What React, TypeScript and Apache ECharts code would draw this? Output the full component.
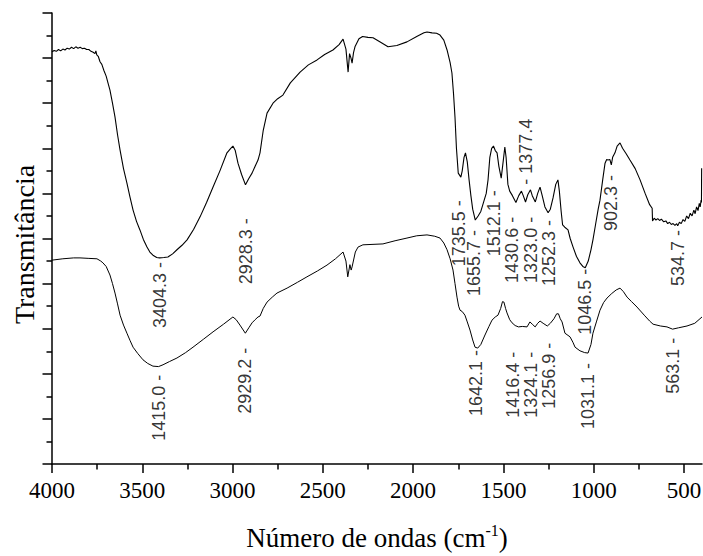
import { useEffect, useRef } from "react";
import * as echarts from "echarts";

// Wavenumber range (cm-1), drawn high to low
const xMin = 400;
const xMax = 4000;
const majorTicks = [4000, 3500, 3000, 2500, 2000, 1500, 1000, 500];
const minorTicks = [3750, 3250, 2750, 2250, 1750, 1250, 750];

// Upper spectrum: [wavenumber, transmittance]
const upperSpectrum: [number, number][] = [
  [4000, 9.14], [3988, 9.17], [3976, 9.15], [3964, 9.19], [3952, 9.16], [3940, 9.2], [3928, 9.18],
  [3916, 9.22], [3904, 9.2], [3892, 9.24], [3880, 9.21], [3868, 9.25], [3856, 9.22], [3844, 9.24],
  [3832, 9.21], [3820, 9.22], [3808, 9.19], [3796, 9.19], [3784, 9.15], [3772, 9.13], [3762, 9.1],
  [3757, 9.16], [3752, 9.07], [3744, 9.04], [3734, 8.92], [3724, 8.86], [3712, 8.72], [3700, 8.6],
  [3690, 8.45], [3679, 8.29], [3665, 8.0], [3651, 7.69], [3637, 7.3], [3623, 6.96], [3604, 6.55],
  [3585, 6.23], [3568, 5.92], [3551, 5.63], [3532, 5.38], [3513, 5.19], [3494, 4.98], [3474, 4.81],
  [3458, 4.7], [3441, 4.63], [3420, 4.58], [3404.3, 4.57], [3380, 4.58], [3358, 4.59], [3332, 4.66],
  [3308, 4.75], [3280, 4.85], [3252, 4.97], [3216, 5.2], [3180, 5.48], [3144, 5.8], [3108, 6.14],
  [3070, 6.5], [3031, 6.9], [3010, 7.0], [2998, 7.05], [2985, 6.95], [2970, 6.67], [2950, 6.42],
  [2928.3, 6.19], [2910, 6.33], [2892, 6.45], [2875, 6.6], [2859, 6.74], [2848, 6.9], [2830, 7.4],
  [2809, 7.78], [2776, 8.0], [2750, 8.1], [2721, 8.18], [2680, 8.45], [2626, 8.69], [2580, 8.85],
  [2532, 8.96], [2490, 9.08], [2444, 9.18], [2410, 9.3], [2388, 9.42], [2372, 9.2], [2360, 8.69],
  [2352, 9.1], [2344, 9.0], [2338, 8.89], [2330, 9.12], [2322, 9.25], [2300, 9.43], [2280, 9.48],
  [2250, 9.46], [2222, 9.45], [2180, 9.35], [2139, 9.25], [2090, 9.28], [2034, 9.36], [1980, 9.48],
  [1940, 9.56], [1923, 9.58], [1895, 9.56], [1870, 9.55], [1851, 9.51], [1830, 9.4], [1812, 9.18],
  [1795, 8.9], [1785, 8.67], [1776, 8.2], [1768, 7.69], [1760, 7.0], [1750, 6.45], [1735.5, 6.36],
  [1728, 6.5], [1718, 6.8], [1710, 6.9], [1700, 6.7], [1690, 6.3], [1680, 5.95], [1670, 5.65],
  [1655.7, 5.41], [1640, 5.5], [1625, 5.6], [1610, 5.8], [1595, 6.0], [1585, 6.3], [1575, 6.8],
  [1565, 7.0], [1555, 7.05], [1545, 6.95], [1535, 6.9], [1525, 6.6], [1512.1, 6.34], [1500, 6.75],
  [1492, 7.03], [1485, 6.8], [1475, 6.2], [1465, 6.05], [1450, 5.95], [1430.6, 5.8], [1415, 5.95],
  [1400, 6.05], [1390, 5.95], [1377.4, 5.81], [1365, 5.97], [1350, 6.08], [1340, 5.95], [1323.0, 5.81],
  [1310, 6.0], [1297, 6.14], [1285, 5.95], [1270, 5.7], [1252.3, 5.57], [1240, 5.65], [1225, 5.9],
  [1210, 6.2], [1198, 6.3], [1190, 6.05], [1180, 5.6], [1172, 5.3], [1160, 5.25], [1142, 5.19],
  [1130, 5.0], [1114, 4.81], [1095, 4.6], [1076, 4.46], [1060, 4.38], [1046.5, 4.35], [1030, 4.5],
  [1015, 4.75], [1004, 4.97], [990, 5.3], [975, 5.65], [965, 5.85], [950, 6.3], [937, 6.67],
  [928, 6.75], [921, 6.74], [910, 6.75], [902.3, 6.63], [895, 6.8], [882, 6.9], [870, 7.05],
  [854, 7.12], [840, 7.0], [820, 6.88], [799, 6.74], [770, 6.55], [743, 6.3], [715, 6.0],
  [690, 5.75], [676, 5.67], [674, 5.39], [665, 5.45], [655, 5.41], [645, 5.44], [635, 5.4],
  [625, 5.43], [612, 5.37], [600, 5.39], [590, 5.33], [580, 5.36], [570, 5.31], [560, 5.33],
  [550, 5.29], [540, 5.33], [534.7, 5.28], [525, 5.36], [515, 5.33], [505, 5.42], [495, 5.38],
  [485, 5.5], [475, 5.44], [465, 5.56], [455, 5.5], [445, 5.63], [438, 5.55], [430, 5.7],
  [422, 5.62], [415, 5.78], [410, 5.7], [405, 5.85], [403, 5.8], [402, 6.56],
];

// Lower spectrum: [wavenumber, transmittance]
const lowerSpectrum: [number, number][] = [
  [4000, 4.52], [3940, 4.55], [3880, 4.57], [3845, 4.57], [3800, 4.56], [3751, 4.55], [3730, 4.5],
  [3718, 4.46], [3700, 4.38], [3679, 4.19], [3665, 4.0], [3651, 3.79], [3637, 3.55], [3623, 3.3],
  [3604, 3.08], [3585, 2.9], [3568, 2.74], [3551, 2.59], [3525, 2.45], [3496, 2.31], [3470, 2.23],
  [3441, 2.17], [3410, 2.16], [3385, 2.2], [3350, 2.27], [3308, 2.35], [3260, 2.47], [3219, 2.59],
  [3160, 2.77], [3108, 2.93], [3050, 3.1], [2998, 3.26], [2980, 3.2], [2959, 3.08], [2929.2, 2.9],
  [2910, 3.02], [2892, 3.13], [2875, 3.2], [2859, 3.26], [2848, 3.28], [2830, 3.45], [2809, 3.59],
  [2780, 3.7], [2754, 3.79], [2698, 3.9], [2640, 4.03], [2588, 4.15], [2530, 4.28], [2477, 4.41],
  [2430, 4.55], [2388, 4.7], [2372, 4.5], [2362, 4.15], [2350, 4.42], [2343, 4.3], [2338, 4.37],
  [2320, 4.7], [2305, 4.81], [2278, 4.86], [2167, 4.88], [2100, 4.95], [2034, 5.01], [1980, 5.06],
  [1923, 5.08], [1880, 5.05], [1851, 5.01], [1830, 4.9], [1812, 4.75], [1795, 4.55], [1779, 4.3],
  [1768, 4.0], [1757, 3.7], [1748, 3.5], [1740, 3.41], [1728, 3.38], [1713, 3.3], [1700, 3.15],
  [1685, 2.97], [1670, 2.75], [1657, 2.59], [1642.1, 2.57], [1625, 2.65], [1602, 2.86], [1580, 3.05],
  [1563, 3.19], [1545, 3.26], [1530, 3.3], [1515, 3.45], [1505, 3.6], [1497, 3.59], [1488, 3.45],
  [1480, 3.35], [1465, 3.2], [1452, 3.13], [1435, 3.07], [1416.4, 3.04], [1395, 3.05], [1369, 3.04],
  [1353, 3.15], [1340, 3.1], [1324.1, 3.04], [1310, 3.12], [1297, 3.17], [1280, 3.12], [1256.9, 3.06],
  [1240, 3.12], [1220, 3.22], [1205, 3.33], [1195, 3.33], [1185, 3.22], [1175, 3.15], [1159, 2.9],
  [1131, 2.82], [1115, 2.7], [1103, 2.59], [1076, 2.51], [1050, 2.47], [1031.1, 2.46], [1015, 2.65],
  [1004, 2.9], [985, 3.15], [965, 3.41], [945, 3.58], [926, 3.68], [900, 3.78], [875, 3.86],
  [854, 3.9], [835, 3.82], [815, 3.7], [790, 3.6], [760, 3.48], [720, 3.3], [690, 3.17], [671, 3.1],
  [630, 3.06], [594, 3.04], [563.1, 2.99], [530, 3.02], [483, 3.06], [440, 3.12], [400, 3.26],
];

// Band labels: text, wavenumber where the label stands (spread apart where bands crowd),
// transmittance at the dash end
const upperBandText = ["3404.3 -", "2928.3 -", "1735.5 -", "1655.7 -", "1512.1 -", "1430.6 -", "- 1377.4", "1323.0 -", "1252.3 -", "1046.5 -", "902.3 -", "534.7 -"];
const upperBandAt = [3404.3, 2928.3, 1746, 1663, 1550, 1450, 1377.4, 1347, 1247, 1046.5, 902.3, 534.7];
const upperBandEnd = [4.48, 5.45, 5.85, 5.19, 6.07, 5.48, 6.19, 5.48, 5.41, 4.33, 6.41, 5.19];

const lowerBandText = ["1415.0 -", "2929.2 -", "1642.1 -", "1416.4 -", "1324.1 -", "1256.9 -", "1031.1 -", "563.1 -"];
const lowerBandAt = [3410, 2929.2, 1654, 1447, 1347, 1247, 1031.1, 563.1];
const lowerBandEnd = [1.98, 2.58, 2.53, 2.49, 2.49, 2.69, 2.24, 2.8];

const serif = "Liberation Serif";
const sans = "Liberation Sans";

function bandItems(texts: string[], at: number[], end: number[]) {
  return texts.map((text, i) => ({
    value: [at[i], end[i]],
    label: { formatter: text, align: text.startsWith("-") ? "left" : "right" },
  }));
}

export default function App() {
  const ref = useRef<HTMLDivElement>(null);

  useEffect(() => {
    const chart = echarts.init(ref.current!, null, { renderer: "svg" });
    const black = "#000";
    chart.setOption({
      animation: false,
      backgroundColor: "#fff",
      textStyle: { fontFamily: serif },
      grid: { left: 52, right: 1, top: 13, bottom: 92, containLabel: false, outerBoundsMode: "none" },
      xAxis: [
        {
          type: "value",
          min: xMin,
          max: xMax,
          inverse: true,
          name: "{t|Número de ondas (cm}{s|-1}{t|)}",
          nameLocation: "middle",
          nameGap: 58,
          nameTextStyle: {
            color: black,
            fontFamily: serif,
            fontSize: 27,
            rich: {
              t: { fontFamily: serif, fontSize: 27, lineHeight: 32, color: black },
              s: { fontFamily: serif, fontSize: 16, lineHeight: 18, verticalAlign: "top", color: black },
            },
          },
          axisLine: { show: true, onZero: false, lineStyle: { color: black, width: 1.5 } },
          axisTick: { show: true, customValues: majorTicks, length: 9, lineStyle: { color: black, width: 1.5 } },
          axisLabel: {
            customValues: majorTicks,
            formatter: (v: number) => String(v),
            color: black,
            fontFamily: serif,
            fontSize: 23,
            margin: 15,
          },
          splitLine: { show: false },
        },
        {
          type: "value",
          min: xMin,
          max: xMax,
          inverse: true,
          position: "bottom",
          axisLine: { show: false },
          axisTick: { show: true, customValues: minorTicks, length: 5.5, lineStyle: { color: black, width: 1.5 } },
          axisLabel: { show: false },
          splitLine: { show: false },
        },
      ],
      yAxis: {
        type: "value",
        min: 0,
        max: 10,
        interval: 1,
        name: "Transmitância",
        nameLocation: "middle",
        nameGap: 14,
        nameTextStyle: { color: black, fontFamily: serif, fontSize: 28, padding: [0, 12, 0, 0] },
        axisLine: { show: true, onZero: false, lineStyle: { color: black, width: 1.5 } },
        axisTick: { show: true, length: 9.5, lineStyle: { color: black, width: 1.5 } },
        minorTick: { show: true, splitNumber: 2, length: 5.5, lineStyle: { color: black, width: 1.5 } },
        axisLabel: { show: false },
        splitLine: { show: false },
        minorSplitLine: { show: false },
      },
      series: [
        {
          type: "line",
          data: upperSpectrum,
          showSymbol: false,
          symbol: "none",
          lineStyle: { color: black, width: 1.1 },
          silent: true,
        },
        {
          type: "line",
          data: lowerSpectrum,
          showSymbol: false,
          symbol: "none",
          lineStyle: { color: black, width: 1 },
          silent: true,
        },
        {
          type: "scatter",
          symbolSize: 1,
          itemStyle: { color: "rgba(0,0,0,0)" },
          silent: true,
          label: {
            show: true,
            position: "inside",
            rotate: 90,
            verticalAlign: "middle",
            color: black,
            fontFamily: sans,
            fontSize: 18,
          },
          data: [
            ...bandItems(upperBandText, upperBandAt, upperBandEnd),
            ...bandItems(lowerBandText, lowerBandAt, lowerBandEnd),
          ],
        },
      ],
    });
    return () => chart.dispose();
  }, []);

  return (
    <div
      ref={ref}
      style={{ position: "fixed", left: 0, top: 0, width: 703, height: 556, background: "#fff" }}
    />
  );
}
